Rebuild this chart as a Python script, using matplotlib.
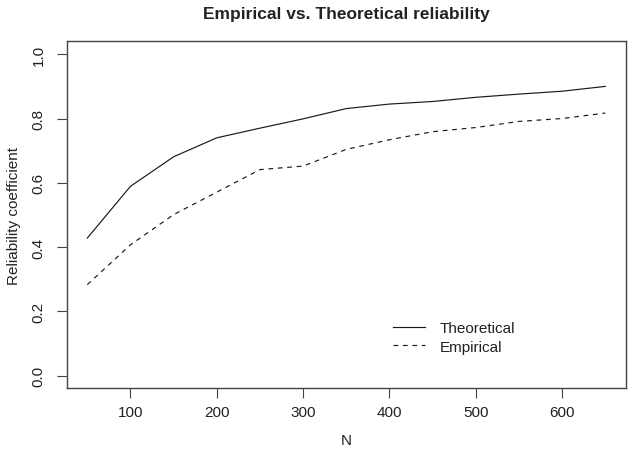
import matplotlib
matplotlib.use("Agg")
import matplotlib.pyplot as plt

# --- Data ---
N = [50, 100, 150, 200, 250, 300, 350, 400, 450, 500, 550, 600, 650]
theoretical = [0.428, 0.589, 0.681, 0.740, 0.770, 0.799, 0.831, 0.845, 0.853,
               0.866, 0.876, 0.885, 0.900]
empirical = [0.283, 0.407, 0.501, 0.571, 0.641, 0.652, 0.704, 0.734, 0.759,
             0.772, 0.791, 0.800, 0.817]
x_ticks = [100, 200, 300, 400, 500, 600]
y_ticks = [0.0, 0.2, 0.4, 0.6, 0.8, 1.0]
# -------------------------------------

plt.rcParams['font.family'] = ['Liberation Sans', 'DejaVu Sans']
INK = '#222222'
FRAME = '#444444'
FS = 11

fig = plt.figure(figsize=(6.3, 4.56), dpi=100)
ax = fig.add_axes([0.1057, 0.146, 0.8880, 0.761])

ax.plot(N, theoretical, color='#1a1a1a', lw=0.85, label='Theoretical')
ax.plot(N, empirical, color='#1a1a1a', lw=0.85, dashes=(4, 4), label='Empirical')

# R-style 4% padding
ax.set_xlim(26, 674)
ax.set_ylim(-0.04, 1.04)
ax.set_xticks(x_ticks)
ax.set_yticks(y_ticks)
ax.set_xticklabels([str(v) for v in x_ticks])
ax.set_yticklabels([f"{v:.1f}" for v in y_ticks], rotation=90, va='center')

ax.tick_params(axis='both', direction='out', length=7, width=0.8,
               color=FRAME, labelcolor=INK, labelsize=FS)
ax.tick_params(axis='x', pad=5)
ax.tick_params(axis='y', pad=8)
for s in ax.spines.values():
    s.set_color(FRAME)
    s.set_linewidth(1.0)

ax.set_xlabel('N', fontsize=FS, color=INK, labelpad=10)
ax.set_ylabel('Reliability coefficient', fontsize=FS, color=INK, labelpad=8)
ax.set_title('Empirical vs. Theoretical reliability', fontsize=12.5,
             fontweight='bold', color=INK, pad=17)

leg = ax.legend(frameon=False, loc='upper left', bbox_to_anchor=(0.572, 0.212),
                fontsize=FS, handlelength=2.1, handletextpad=1.0,
                labelspacing=0.3, borderaxespad=0)
for t in leg.get_texts():
    t.set_color(INK)

fig.savefig('out.png', dpi=100)
